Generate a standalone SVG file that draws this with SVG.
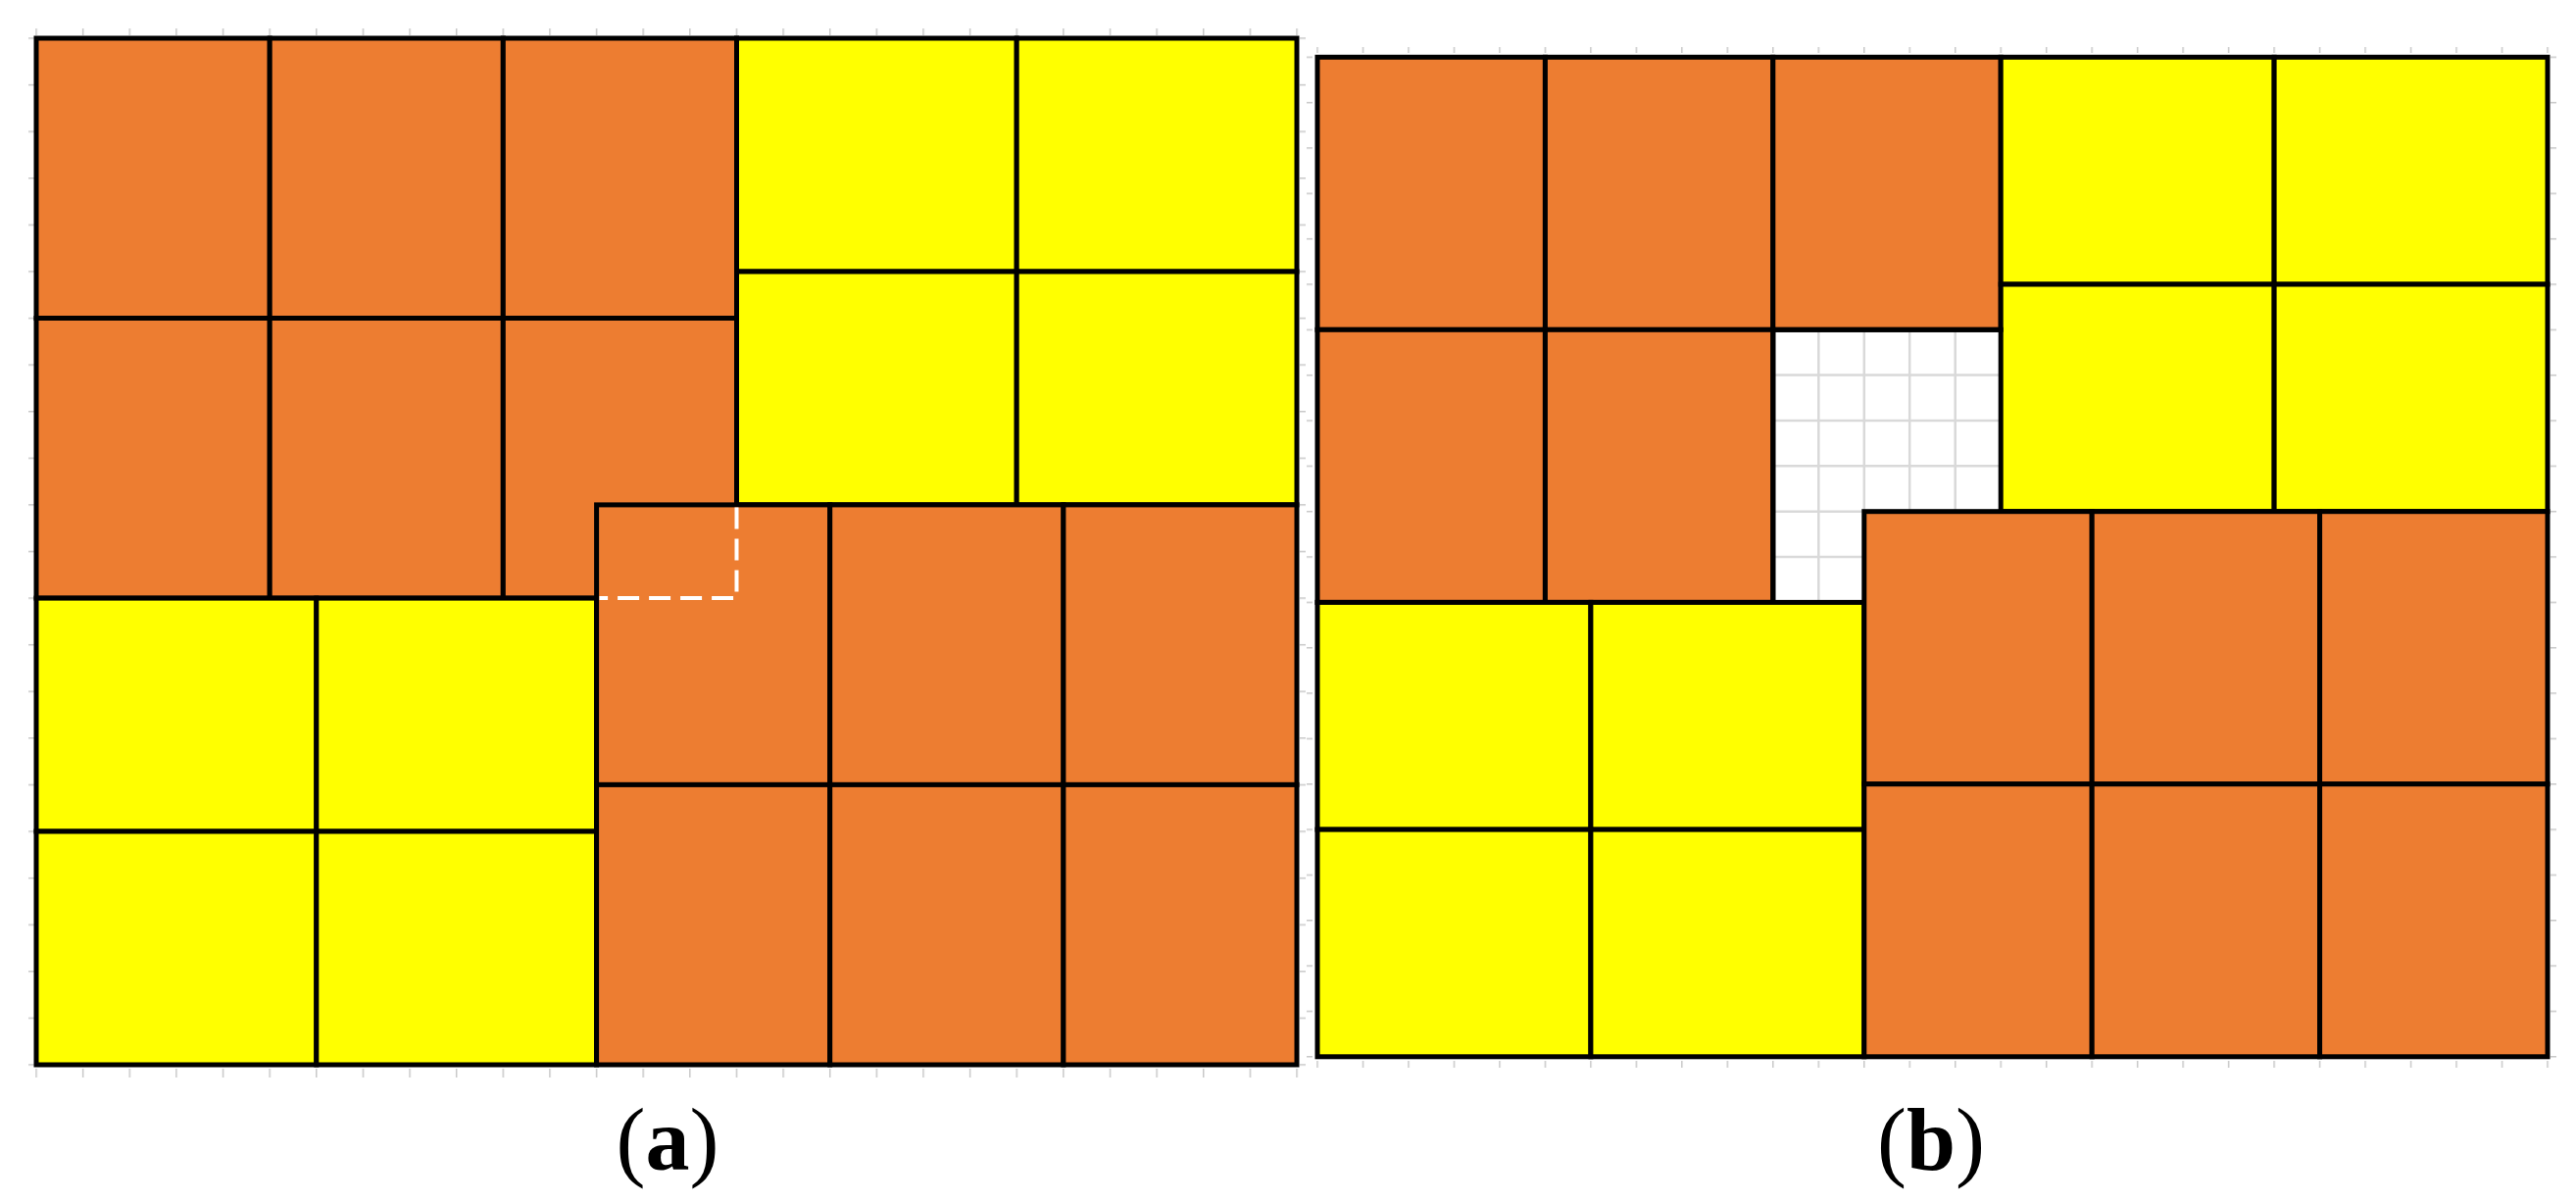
<svg xmlns="http://www.w3.org/2000/svg" width="2628" height="1227" viewBox="0 0 2628 1227">
<style>
.or{fill:#ED7D31;stroke:#000;stroke-width:5}
.ye{fill:#FFFF00;stroke:#000;stroke-width:5}
.gl{stroke:#d9d9d9;stroke-width:2.5;fill:none}
.lbl{font-family:"Liberation Serif","Times New Roman",serif;font-size:90px;fill:#000}
</style>
<defs>
<pattern id="tAx" x="36.25" y="0" width="47.63" height="20" patternUnits="userSpaceOnUse"><rect width="1.5" height="20" fill="#c8c8c8"/></pattern>
<pattern id="tAy" x="0" y="38.25" width="20" height="47.59" patternUnits="userSpaceOnUse"><rect width="20" height="1.5" fill="#c8c8c8"/></pattern>
<pattern id="tBx" x="1343.25" y="0" width="46.48" height="20" patternUnits="userSpaceOnUse"><rect width="1.5" height="20" fill="#c8c8c8"/></pattern>
<pattern id="tBy" x="0" y="57.55" width="20" height="46.34" patternUnits="userSpaceOnUse"><rect width="20" height="1.5" fill="#c8c8c8"/></pattern>
</defs>
<rect width="2628" height="1227" fill="#fff"/>

<g id="ticks">
<rect x="35" y="29" width="1290" height="7" fill="url(#tAx)"/>
<rect x="35" y="1090" width="1290" height="9" fill="url(#tAx)"/>
<rect x="29" y="37" width="6" height="1051" fill="url(#tAy)"/>
<rect x="1326" y="37" width="6" height="1051" fill="url(#tAy)"/>
<rect x="1342" y="48" width="1259" height="6" fill="url(#tBx)"/>
<rect x="1342" y="1082" width="1259" height="7" fill="url(#tBx)"/>
<rect x="1333" y="56" width="6" height="1024" fill="url(#tBy)"/>
<rect x="2602" y="56" width="6" height="1024" fill="url(#tBy)"/>
</g>

<!-- Panel (a) -->
<g id="a-orange-top-left">
<rect class="or" x="37" y="39" width="238.2" height="285.5"/>
<rect class="or" x="275.2" y="39" width="238.1" height="285.5"/>
<rect class="or" x="513.3" y="39" width="238.2" height="285.5"/>
<rect class="or" x="37" y="324.5" width="238.2" height="285.6"/>
<rect class="or" x="275.2" y="324.5" width="238.1" height="285.6"/>
<rect class="or" x="513.3" y="324.5" width="238.2" height="285.6"/>
</g>
<g id="a-yellow-top-right">
<rect class="ye" x="751.5" y="39" width="285.7" height="238"/>
<rect class="ye" x="1037.2" y="39" width="285.8" height="238"/>
<rect class="ye" x="751.5" y="277" width="285.7" height="237.9"/>
<rect class="ye" x="1037.2" y="277" width="285.8" height="237.9"/>
</g>
<g id="a-yellow-bottom-left">
<rect class="ye" x="37" y="610.1" width="285.8" height="237.9"/>
<rect class="ye" x="322.8" y="610.1" width="285.8" height="237.9"/>
<rect class="ye" x="37" y="848" width="285.8" height="238"/>
<rect class="ye" x="322.8" y="848" width="285.8" height="238"/>
</g>
<g id="a-orange-bottom-right">
<rect class="or" x="608.6" y="514.9" width="238.1" height="285.5"/>
<rect class="or" x="846.7" y="514.9" width="238.2" height="285.5"/>
<rect class="or" x="1084.9" y="514.9" width="238.1" height="285.5"/>
<rect class="or" x="608.6" y="800.4" width="238.1" height="285.6"/>
<rect class="or" x="846.7" y="800.4" width="238.2" height="285.6"/>
<rect class="or" x="1084.9" y="800.4" width="238.1" height="285.6"/>
</g>
<g id="a-overlap-outline">
<path d="M751.5,517.5 V610.1 H611.5" fill="none" stroke="#fff" stroke-width="4" stroke-dasharray="22 10"/>
</g>

<!-- Panel (b) -->
<g id="b-empty-grid">
<rect x="1808.8" y="336.3" width="232.4" height="278.1" fill="#fff"/>
<path class="gl" d="M1855.3,336.3 V614.4 M1901.8,336.3 V614.4 M1948.2,336.3 V614.4 M1994.7,336.3 V614.4 M1808.8,382.6 H2041.2 M1808.8,429 H2041.2 M1808.8,475.3 H2041.2 M1808.8,521.7 H2041.2 M1808.8,568 H2041.2"/>
</g>
<g id="b-orange-top-left">
<rect class="or" x="1344" y="58.3" width="232.4" height="278"/>
<rect class="or" x="1576.4" y="58.3" width="232.4" height="278"/>
<rect class="or" x="1808.8" y="58.3" width="232.4" height="278"/>
<rect class="or" x="1344" y="336.3" width="232.4" height="278.1"/>
<rect class="or" x="1576.4" y="336.3" width="232.4" height="278.1"/>
</g>
<g id="b-yellow-top-right">
<rect class="ye" x="2041.2" y="58.3" width="278.9" height="231.7"/>
<rect class="ye" x="2320.1" y="58.3" width="278.9" height="231.7"/>
<rect class="ye" x="2041.2" y="290" width="278.9" height="231.7"/>
<rect class="ye" x="2320.1" y="290" width="278.9" height="231.7"/>
</g>
<g id="b-yellow-bottom-left">
<rect class="ye" x="1344" y="614.4" width="278.9" height="231.7"/>
<rect class="ye" x="1622.9" y="614.4" width="278.9" height="231.7"/>
<rect class="ye" x="1344" y="846.1" width="278.9" height="231.7"/>
<rect class="ye" x="1622.9" y="846.1" width="278.9" height="231.7"/>
</g>
<g id="b-orange-bottom-right">
<rect class="or" x="1901.8" y="521.7" width="232.4" height="278"/>
<rect class="or" x="2134.2" y="521.7" width="232.4" height="278"/>
<rect class="or" x="2366.6" y="521.7" width="232.4" height="278"/>
<rect class="or" x="1901.8" y="799.7" width="232.4" height="278.1"/>
<rect class="or" x="2134.2" y="799.7" width="232.4" height="278.1"/>
<rect class="or" x="2366.6" y="799.7" width="232.4" height="278.1"/>
</g>
<path d="M1808.8,336.3 V614.4 M1806.3,336.3 H2043.7" stroke="#000" stroke-width="5" fill="none"/>

<g id="labels">
<text class="lbl" x="681" y="1193" text-anchor="middle">(<tspan font-weight="bold">a</tspan>)</text>
<text class="lbl" x="1970" y="1193" text-anchor="middle">(<tspan font-weight="bold">b</tspan>)</text>
</g>
</svg>
